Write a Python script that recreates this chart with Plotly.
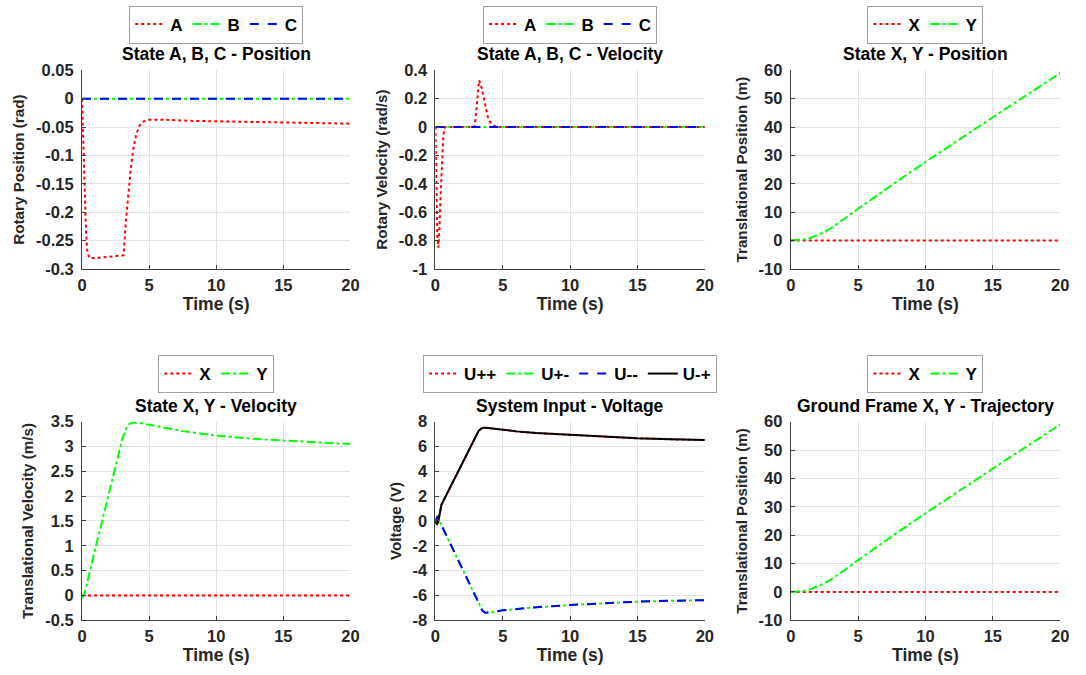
import plotly.graph_objects as go

# ---------------- data ----------------
# Plot 1: rotary position
t_pos_A = [0, 0.1, 0.2, 0.3, 0.4, 0.55, 1.0, 2.0, 3.0, 3.1, 3.25, 3.45, 3.65, 3.85, 4.05, 4.3, 4.6, 5.0, 6.0, 8.0, 10, 12, 14, 16, 18, 20]
pos_A = [0, -0.08, -0.16, -0.235, -0.27, -0.281, -0.281, -0.279, -0.277, -0.276, -0.22, -0.165, -0.12, -0.085, -0.062, -0.047, -0.040, -0.037, -0.037, -0.039, -0.040, -0.041, -0.042, -0.043, -0.043, -0.044]
t_zero = [0, 20]
zero_line = [0, 0]

# Plot 2: rotary velocity
t_vel_A = [0, 0.05, 0.1, 0.15, 0.22, 0.3, 0.4, 0.5, 0.6, 0.7, 2.9, 3.0, 3.1, 3.2, 3.25, 3.45, 3.6, 3.75, 3.9, 4.1, 4.4, 4.7, 20]
vel_A = [0, -0.3, -0.6, -0.78, -0.85, -0.72, -0.45, -0.2, -0.05, 0, 0, 0.08, 0.2, 0.31, 0.33, 0.27, 0.2, 0.12, 0.07, 0.03, 0.005, 0, 0]

# Plot 3 / 6: translational position
t_trans = [0, 0.5, 1, 1.5, 2, 2.5, 3, 3.5, 4, 5, 6, 8, 10, 12, 14, 16, 18, 20]
pos_Y = [0, 0.1, 0.4, 1.0, 1.9, 3.0, 4.4, 6.0, 7.7, 11.2, 14.6, 21.2, 27.7, 34.1, 40.4, 46.6, 52.8, 59.0]

# Plot 4: translational velocity
t_vel_Y = [0, 0.2, 1, 2, 3, 3.4, 3.7, 4, 5, 6, 7.5, 10, 12.5, 15, 17.5, 20]
vel_Y = [-0.05, 0.05, 0.95, 2.05, 3.15, 3.43, 3.48, 3.49, 3.44, 3.38, 3.31, 3.22, 3.16, 3.12, 3.08, 3.05]

# Plot 5: voltages
t_u_pos = [0, 0.1, 0.2, 0.3, 0.45, 1.0, 1.5, 2.0, 2.5, 3.0, 3.2, 3.4, 3.6, 3.9, 4.3, 5, 6, 7.5, 10, 12.5, 15, 17.5, 20]
u_mp = [0, -0.3, -0.1, 0.5, 1.3, 2.5, 3.6, 4.7, 5.75, 6.85, 7.25, 7.45, 7.52, 7.5, 7.44, 7.35, 7.22, 7.08, 6.92, 6.78, 6.66, 6.58, 6.52]
u_pp = u_mp
t_u_neg = [0, 0.15, 0.3, 1, 2, 3, 3.5, 3.7, 4, 5, 6, 7.5, 10, 12.5, 15, 17.5, 20]
u_pm = [0, 0.4, 0, -1.6, -3.85, -6.1, -7.25, -7.4, -7.38, -7.2, -7.08, -6.95, -6.77, -6.63, -6.5, -6.43, -6.38]
u_mm = u_pm

# tick labels
x_ticks = [0, 5, 10, 15, 20]
y1_ticks = [0.05, 0, -0.05, -0.1, -0.15, -0.2, -0.25, -0.3]
y1_text = ["0.05", "0", "-0.05", "-0.1", "-0.15", "-0.2", "-0.25", "-0.3"]
y2_ticks = [0.4, 0.2, 0, -0.2, -0.4, -0.6, -0.8, -1]
y2_text = ["0.4", "0.2", "0", "-0.2", "-0.4", "-0.6", "-0.8", "-1"]
y3_ticks = [60, 50, 40, 30, 20, 10, 0, -10]
y3_text = ["60", "50", "40", "30", "20", "10", "0", "-10"]
y4_ticks = [3.5, 3, 2.5, 2, 1.5, 1, 0.5, 0, -0.5]
y4_text = ["3.5", "3", "2.5", "2", "1.5", "1", "0.5", "0", "-0.5"]
y5_ticks = [8, 6, 4, 2, 0, -2, -4, -6, -8]
y5_text = ["8", "6", "4", "2", "0", "-2", "-4", "-6", "-8"]

titles = ["State A, B, C - Position", "State A, B, C - Velocity", "State X, Y - Position",
          "State X, Y - Velocity", "System Input - Voltage", "Ground Frame X, Y - Trajectory"]
ylabels = ["Rotary Position (rad)", "Rotary Velocity (rad/s)", "Translational Position (m)",
           "Translational Velocity (m/s)", "Voltage (V)", "Translational Position (m)"]

# ---------------- layout helpers ----------------
W, H = 1086, 675
col_px = [(78, 350), (436, 709), (796, 1069)]
row_px = [(63, 267), (424, 628)]
legend_y_px = [16, 375]

FONT = "Liberation Sans, Arial, sans-serif"
RED, GREEN, BLUE, BLACK = "#ff0000", "#00ff00", "#0000ff", "#000000"
LW = 2

fig = go.Figure()

def add(idx, x, y, name, color, dash):
    n = idx + 1
    fig.add_trace(go.Scatter(
        x=x, y=y, name=name, mode="lines",
        line=dict(color=color, width=LW, dash=dash),
        xaxis="x" if n == 1 else f"x{n}", yaxis="y" if n == 1 else f"y{n}",
        legend="legend" if n == 1 else f"legend{n}"))

add(0, t_pos_A, pos_A, "A", RED, "dot")
add(0, t_zero, zero_line, "B", GREEN, "dashdot")
add(0, t_zero, zero_line, "C", BLUE, "dash")

add(1, t_vel_A, vel_A, "A", RED, "dot")
add(1, t_zero, zero_line, "B", GREEN, "dashdot")
add(1, t_zero, zero_line, "C", BLUE, "dash")

add(2, t_zero, zero_line, "X", RED, "dot")
add(2, t_trans, pos_Y, "Y", GREEN, "dashdot")

add(3, t_zero, zero_line, "X", RED, "dot")
add(3, t_vel_Y, vel_Y, "Y", GREEN, "dashdot")

add(4, t_u_pos, u_pp, "U++", RED, "dot")
add(4, t_u_neg, u_pm, "U+-", GREEN, "dashdot")
add(4, t_u_neg, u_mm, "U--", BLUE, "dash")
add(4, t_u_pos, u_mp, "U-+", BLACK, "solid")

add(5, t_zero, zero_line, "X", RED, "dot")
add(5, t_trans, pos_Y, "Y", GREEN, "dashdot")

yspecs = [
    ([-0.3, 0.05], y1_ticks, y1_text),
    ([-1, 0.4], y2_ticks, y2_text),
    ([-10, 60], y3_ticks, y3_text),
    ([-0.5, 3.5], y4_ticks, y4_text),
    ([-8, 8], y5_ticks, y5_text),
    ([-10, 60], y3_ticks, y3_text),
]

TXT = "#262626"
layout = dict(
    width=W, height=H, margin=dict(l=0, r=0, t=0, b=0),
    paper_bgcolor="white", plot_bgcolor="white",
    font=dict(family=FONT, size=16, color=TXT, weight="bold"),
    annotations=[],
)

axis_common = dict(
    showline=True, linecolor="#404040", linewidth=1,
    showgrid=True, gridcolor="#e3e3e3", gridwidth=1,
    zeroline=False, mirror=False,
    ticks="inside", ticklen=4, tickcolor="#404040",
    tickfont=dict(family=FONT, size=16.5, color=TXT, weight="bold"),
)

for i in range(6):
    r, c = divmod(i, 3)
    n = i + 1
    x0, x1 = col_px[c]
    top, bot = row_px[r]
    xd = [x0 / W, x1 / W]
    yd = [1 - bot / H, 1 - top / H]
    xa = "xaxis" if n == 1 else f"xaxis{n}"
    ya = "yaxis" if n == 1 else f"yaxis{n}"
    yrange, yt, ytt = yspecs[i]
    layout[xa] = dict(axis_common, domain=xd, range=[0, 20], tickvals=x_ticks,
                      anchor="y" if n == 1 else f"y{n}", ticklabelstandoff=1,
                      title=dict(text="Time (s)", standoff=2,
                                 font=dict(family=FONT, size=17.5, color=TXT, weight="bold")))
    layout[ya] = dict(axis_common, domain=yd, range=yrange, tickvals=yt, ticktext=ytt,
                      anchor="x" if n == 1 else f"x{n}", ticklabelstandoff=4,
                      title=dict(text=ylabels[i], standoff=7,
                                 font=dict(family=FONT, size=15.2, color=TXT, weight="bold")))
    lg = "legend" if n == 1 else f"legend{n}"
    layout[lg] = dict(
        x=(x0 + x1) / 2 / W, y=1 - legend_y_px[r] / H, xanchor="center", yanchor="middle",
        orientation="h", bgcolor="white", bordercolor="#a0a0a0", borderwidth=1,
        font=dict(family=FONT, size=17, color="#000000", weight="bold"),
        itemwidth=30, tracegroupgap=0,
    )
    layout["annotations"].append(dict(
        text=titles[i], x=(x0 + x1) / 2 / W, y=1 - (top - 4) / H,
        xref="paper", yref="paper", xanchor="center", yanchor="bottom", showarrow=False,
        font=dict(family=FONT, size=17.5, color="#000000", weight="bold")))

fig.update_layout(**layout)
fig.write_html("out.html")
